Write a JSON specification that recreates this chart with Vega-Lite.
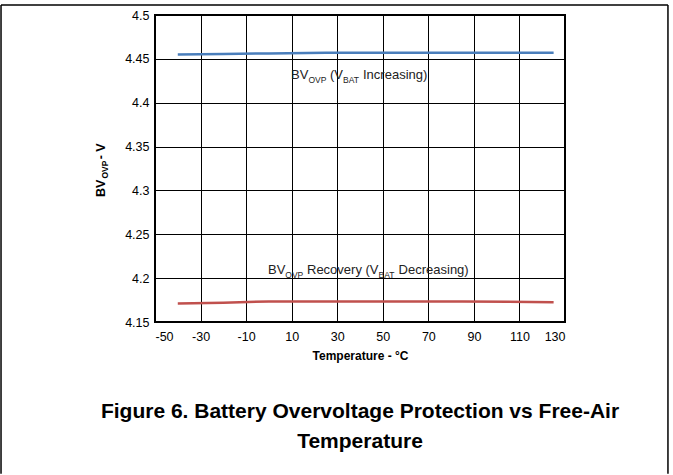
{
  "$schema": "https://vega.github.io/schema/vega-lite/v6.json",
  "width": 410,
  "height": 307,
  "autosize": {"type": "none"},
  "padding": {"left": 155, "top": 15, "right": 108, "bottom": 153},
  "background": "white",
  "title": {
    "text": ["Figure 6. Battery Overvoltage Protection vs Free-Air", "Temperature"],
    "orient": "bottom",
    "anchor": "middle",
    "font": "Liberation Sans",
    "fontSize": 21,
    "fontWeight": "bold",
    "lineHeight": 30,
    "color": "#000",
    "offset": -73
  },
  "datasets": {
    "curves": [
      {"temp": -40, "volt": 4.455, "series": "inc"},
      {"temp": -20, "volt": 4.4555, "series": "inc"},
      {"temp": 0, "volt": 4.4562, "series": "inc"},
      {"temp": 25, "volt": 4.457, "series": "inc"},
      {"temp": 50, "volt": 4.457, "series": "inc"},
      {"temp": 85, "volt": 4.457, "series": "inc"},
      {"temp": 125, "volt": 4.457, "series": "inc"},
      {"temp": -40, "volt": 4.171, "series": "dec"},
      {"temp": -20, "volt": 4.172, "series": "dec"},
      {"temp": 0, "volt": 4.1735, "series": "dec"},
      {"temp": 25, "volt": 4.1735, "series": "dec"},
      {"temp": 85, "volt": 4.1735, "series": "dec"},
      {"temp": 105, "volt": 4.173, "series": "dec"},
      {"temp": 125, "volt": 4.1725, "series": "dec"}
    ],
    "notes": [
      {"label": "BV", "temp": 9.71, "volt": 4.427, "size": 13},
      {"label": "OVP", "temp": 17.39, "volt": 4.4225, "size": 8.5},
      {"label": "(V", "temp": 26.83, "volt": 4.427, "size": 13},
      {"label": "BAT", "temp": 32.54, "volt": 4.4225, "size": 8.5},
      {"label": "Increasing)", "temp": 41.32, "volt": 4.427, "size": 13},
      {"label": "BV", "temp": -0.39, "volt": 4.2047, "size": 13},
      {"label": "OVP", "temp": 7.21, "volt": 4.2002, "size": 8.5},
      {"label": "Recovery", "temp": 16.73, "volt": 4.2047, "size": 13},
      {"label": "(V", "temp": 42.41, "volt": 4.2047, "size": 13},
      {"label": "BAT", "temp": 48.12, "volt": 4.2002, "size": 8.5},
      {"label": "Decreasing)", "temp": 56.94, "volt": 4.2047, "size": 13}
    ],
    "ytitle": [
      {"label": "BV", "temp": -71.9, "volt": 4.2925, "size": 12.5},
      {"label": "OVP", "temp": -70.6, "volt": 4.3135, "size": 8.5},
      {"label": "- V", "temp": -71.9, "volt": 4.3355, "size": 12.5}
    ],
    "frame": [
      {"x1": -117.6, "x2": 175.2, "y1": 4.5114, "y2": 4.5114},
      {"x1": -117.6, "x2": -117.6, "y1": 4.5114, "y2": 3.977},
      {"x1": 175.2, "x2": 175.2, "y1": 4.5114, "y2": 3.977}
    ]
  },
  "layer": [
    {
      "data": {"name": "curves"},
      "mark": {"type": "line", "strokeWidth": 2.5},
      "encoding": {
        "x": {
          "field": "temp",
          "type": "quantitative",
          "scale": {"domain": [-50, 130], "nice": false, "zero": false},
          "axis": {
            "values": [-50, -30, -10, 10, 30, 50, 70, 90, 110, 130],
            "labelExpr": "'' + datum.value",
            "grid": true,
            "gridColor": "#000",
            "gridWidth": 1,
            "gridOpacity": 1,
            "ticks": false,
            "domain": false,
            "labelFont": "Liberation Sans",
            "labelFontSize": 12.5,
            "labelColor": "#000",
            "labelPadding": 8,
            "title": "Temperature - °C",
            "titleFont": "Liberation Sans",
            "titleFontSize": 12,
            "titleFontWeight": "bold",
            "titleColor": "#000",
            "titlePadding": 8
          }
        },
        "y": {
          "field": "volt",
          "type": "quantitative",
          "scale": {"domain": [4.15, 4.5], "nice": false, "zero": false},
          "axis": {
            "values": [4.15, 4.2, 4.25, 4.3, 4.35, 4.4, 4.45, 4.5],
            "labelExpr": "'' + datum.value",
            "grid": true,
            "gridColor": "#000",
            "gridWidth": 1,
            "gridOpacity": 1,
            "ticks": false,
            "domain": false,
            "labelFont": "Liberation Sans",
            "labelFontSize": 12.5,
            "labelColor": "#000",
            "labelPadding": 6,
            "title": null
          }
        },
        "color": {
          "field": "series",
          "type": "nominal",
          "scale": {"domain": ["inc", "dec"], "range": ["#4a7ebb", "#c0504d"]},
          "legend": null
        }
      }
    },
    {
      "data": {"name": "notes"},
      "mark": {"type": "text", "align": "left", "baseline": "alphabetic", "font": "Liberation Sans", "color": "#222"},
      "encoding": {
        "x": {"field": "temp", "type": "quantitative"},
        "y": {"field": "volt", "type": "quantitative"},
        "text": {"field": "label"},
        "size": {"field": "size", "type": "quantitative", "scale": null}
      }
    },
    {
      "data": {"name": "ytitle"},
      "mark": {"type": "text", "align": "left", "baseline": "alphabetic", "angle": 270, "font": "Liberation Sans", "fontWeight": "bold", "color": "#000"},
      "encoding": {
        "x": {"field": "temp", "type": "quantitative"},
        "y": {"field": "volt", "type": "quantitative"},
        "text": {"field": "label"},
        "size": {"field": "size", "type": "quantitative", "scale": null}
      }
    },
    {
      "data": {"name": "frame"},
      "mark": {"type": "rule", "color": "#000", "strokeWidth": 1.5},
      "encoding": {
        "x": {"field": "x1", "type": "quantitative"},
        "x2": {"field": "x2"},
        "y": {"field": "y1", "type": "quantitative"},
        "y2": {"field": "y2"}
      }
    }
  ],
  "config": {
    "view": {"stroke": "#000", "strokeWidth": 2}
  }
}
